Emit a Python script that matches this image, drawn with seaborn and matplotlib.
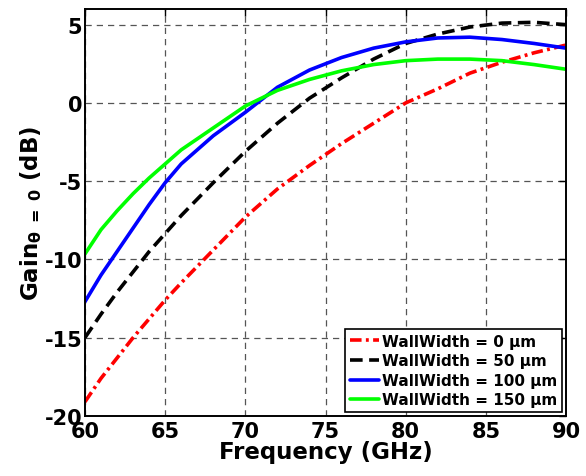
import matplotlib
matplotlib.use("Agg")
import matplotlib.pyplot as plt
import seaborn as sns
import pandas as pd

# Frequency grid (GHz) and gain curves (dB) for each wall width
freq = [60, 61, 62, 63, 64, 65, 66, 68, 70, 72, 74, 76, 78, 80, 82, 84, 86, 88, 90]
gain_0um = [-19.1, -17.6, -16.3, -15.0, -13.8, -12.6, -11.5, -9.4, -7.3, -5.5, -4.0,
            -2.6, -1.3, 0.0, 0.9, 1.9, 2.6, 3.2, 3.7]
gain_50um = [-15.0, -13.5, -12.1, -10.8, -9.5, -8.35, -7.2, -5.1, -3.1, -1.3, 0.3,
             1.6, 2.8, 3.8, 4.4, 4.85, 5.1, 5.15, 5.0]
gain_100um = [-12.7, -11.0, -9.5, -8.0, -6.5, -5.1, -3.9, -2.1, -0.6, 1.0, 2.1,
              2.9, 3.5, 3.9, 4.15, 4.2, 4.05, 3.8, 3.5]
gain_150um = [-9.65, -8.1, -6.9, -5.8, -4.8, -3.9, -3.0, -1.6, -0.2, 0.8, 1.5,
              2.05, 2.45, 2.7, 2.8, 2.8, 2.7, 2.45, 2.15]

labels = ["WallWidth = 0 \u03bcm", "WallWidth = 50 \u03bcm",
          "WallWidth = 100 \u03bcm", "WallWidth = 150 \u03bcm"]
x_ticks = [60, 65, 70, 75, 80, 85, 90]
y_ticks = [-20, -15, -10, -5, 0, 5]

sns.set_theme(style="white")
plt.rcParams["font.family"] = ["DejaVu Sans"]
plt.rcParams["font.weight"] = "bold"
plt.rcParams["text.color"] = "black"
plt.rcParams["axes.labelcolor"] = "black"
plt.rcParams["xtick.color"] = "black"
plt.rcParams["ytick.color"] = "black"
plt.rcParams["mathtext.fontset"] = "dejavusans"
plt.rcParams["mathtext.default"] = "bf"

df = pd.concat([
    pd.DataFrame({"freq": freq, "gain": g, "series": lab})
    for g, lab in zip([gain_0um, gain_50um, gain_100um, gain_150um], labels)
])

styles = {
    labels[0]: dict(color="#ff0000", dashes=(3.2, 1.2, 0.8, 1.2)),
    labels[1]: dict(color="#000000", dashes=(3.5, 1.8)),
    labels[2]: dict(color="#0000ff", dashes=None),
    labels[3]: dict(color="#00ff00", dashes=None),
}

fig = plt.figure(figsize=(5.86, 4.77), dpi=100)
ax = fig.add_axes([0.145, 0.126, 0.821, 0.853])

for lab in labels:
    sub = df[df["series"] == lab]
    st = styles[lab]
    line = sns.lineplot(data=sub, x="freq", y="gain", ax=ax, color=st["color"],
                        linewidth=2.6, label=lab).lines[-1]
    if st["dashes"] is not None:
        line.set_dashes(st["dashes"])

ax.set_xlim(60, 90)
ax.set_ylim(-20, 6)
ax.set_xticks(x_ticks)
ax.set_yticks(y_ticks)
ax.set_xticklabels([str(v) for v in x_ticks], fontsize=15, fontweight="bold")
ax.set_yticklabels([str(v) for v in y_ticks], fontsize=15, fontweight="bold")
ax.tick_params(direction="in", length=5, width=1, top=True, right=True,
               pad=2, colors="black")
ax.tick_params(axis="x", pad=4)

ax.grid(True, color="#555555", linestyle=(0, (5, 4)), linewidth=0.9)
for sp in ax.spines.values():
    sp.set_color("black")
    sp.set_linewidth(1.4)

ax.set_xlabel("Frequency (GHz)", fontsize=16.5, fontweight="bold", labelpad=-1)
ax.set_ylabel(r"Gain$_{\theta\ =\ 0}$ (dB)", fontsize=16.5, fontweight="bold", labelpad=0)

leg = ax.legend(loc="lower right", fontsize=11, frameon=True, fancybox=False,
                edgecolor="black", framealpha=1, handlelength=1.9, handletextpad=0.25,
                labelspacing=0.3, borderpad=0.3, borderaxespad=0.25)
leg.get_frame().set_linewidth(1.2)
for t in leg.get_texts():
    t.set_fontweight("bold")
    t.set_color("black")

fig.savefig("out.png", dpi=100)
